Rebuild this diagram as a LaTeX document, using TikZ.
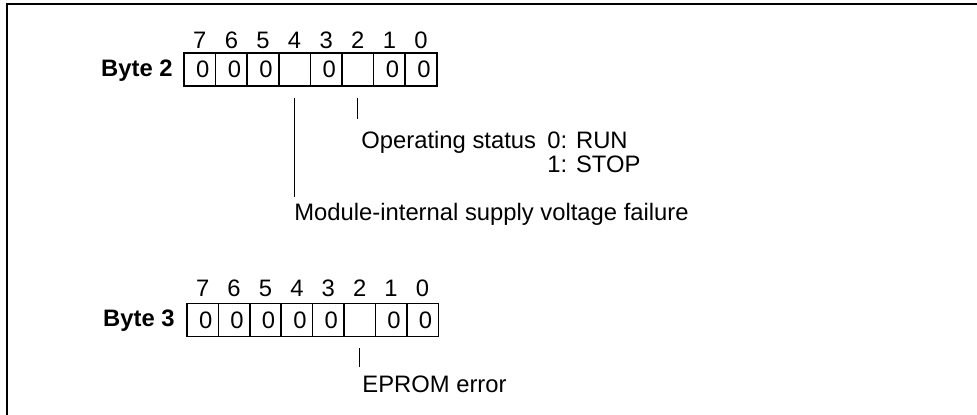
\documentclass[tikz,border=0pt]{standalone}
\usepackage{fontspec}
\setmainfont{Liberation Sans}
\usepackage{tikz}
\usetikzlibrary{positioning}

\tikzset{
  txt/.style={inner sep=0pt, font=\fontsize{11.9}{14}\selectfont},
  bitno/.style={txt, anchor=base},
  bytelbl/.style={txt, anchor=base east, font=\fontsize{11.9}{14}\selectfont\bfseries},
  cell/.style={draw, line width=0.75pt, minimum width=15.8pt, minimum height=16.5pt,
    text width=9.6pt, align=right, inner xsep=3.1pt, inner ysep=0pt,
    text height=8.5pt, text depth=0pt, font=\fontsize{11.9}{14}\selectfont},
  lead/.style={line width=0.5pt},
}

\begin{document}
\begin{tikzpicture}[x=0.5pt,y=-0.5pt]
                \useasboundingbox (0,0) rectangle (977,415);
                % frame
                \draw[line width=1pt] (7,415) -- (7,4) -- (977,4);
                % byte 2
                \node[bytelbl] (lbl2) at (173,77) {Byte 2};
                \foreach \b/\v [count=\i from 0] in {7/0,6/0,5/0,4/{},3/0,2/{},1/0,0/0} {
                    \node[cell] (b2-\b) at (184+31.6*\i+15.8,69.5) {\v};
                    \node[bitno] (n2-\b) at (184+31.6*\i+15.8,48.5) {\b};
                }
                % byte 3
                \node[bytelbl] (lbl3) at (175,327) {Byte 3};
                \foreach \b/\v [count=\i from 0] in {7/0,6/0,5/0,4/0,3/0,2/{},1/0,0/0} {
                    \node[cell] (b3-\b) at (187+31.4*\i+15.7,320) {\v};
                    \node[bitno] (n3-\b) at (187+31.4*\i+15.7,297) {\b};
                }
                % texts
                \node[txt, anchor=base west] (opst) at (361,149) {Operating status};
                \node[txt, anchor=base west] (run) at (547,149) {0: RUN};
                \node[txt, anchor=base west] (stop) at (547,173) {1: STOP};
                \node[txt, anchor=base west] (fail) at (294,221) {Module-internal supply voltage failure};
                \node[txt, anchor=base west] (eprom) at (362,393) {EPROM error};
                % leads
                \draw[lead, shorten <=5.5pt, shorten >=6pt] (b2-2.south) -- (b2-2.south |- opst.north);
                \draw[lead, shorten <=5.5pt, shorten >=3pt] (b2-4.south) -- (b2-4.south |- fail.north);
                \draw[lead, shorten <=5.5pt, shorten >=4.5pt] (b3-2.south) -- (b3-2.south |- eprom.north);
            \end{tikzpicture}
\end{document}
